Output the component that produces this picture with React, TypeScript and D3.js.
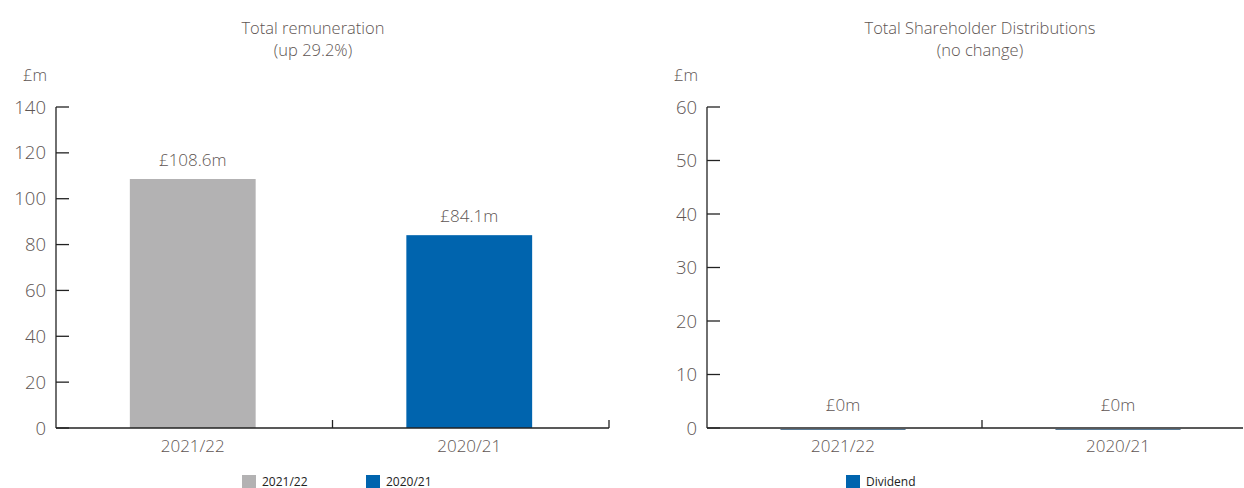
import React from "react";
import * as d3 from "d3";

const categories = ["2021/22", "2020/21"];
const remunerationValues = [108.6, 84.1];
const remunerationLabels = ["£108.6m", "£84.1m"];
const remunerationTicks = [0, 20, 40, 60, 80, 100, 120, 140];
const distributionValues = [0, 0];
const distributionLabels = ["£0m", "£0m"];
const distributionTicks = [0, 10, 20, 30, 40, 50, 60];
const remunerationColors = ["#b3b2b3", "#0064ae"];
const legendLeft = ["2021/22", "2020/21"];
const legendRight = ["Dividend"];

const TEXT = "#5e5553";
const FONT = "'Open Sans', 'Noto Sans', sans-serif";
const LEGEND_FONT = "'Open Sans', 'Noto Sans', sans-serif";

type PanelProps = {
  x0: number;
  x1: number;
  axisEnd: number;
  titleLines: string[];
  titleX: number;
  values: number[];
  labels: string[];
  ticks: number[];
  max: number;
  colors: string[];
};

function Panel(p: PanelProps) {
  const y = d3.scaleLinear().domain([0, p.max]).range([428, 107]);
  const x = d3.scaleBand().domain(categories).range([p.x0, p.x1]).paddingInner(0).paddingOuter(0);
  const bw = x.bandwidth() * 0.455;
  return (
    <g>
      {p.titleLines.map((t, i) => (
        <text key={t} x={p.titleX} y={34 + i * 22} textAnchor="middle" fontFamily={FONT} fontWeight={300} fontSize={16.5} fill={TEXT}>
          {t}
        </text>
      ))}
      <text x={p.x0 - 9} y={81} textAnchor="end" fontFamily={FONT} fontWeight={300} fontSize={16.5} fill={TEXT}>
        £m
      </text>
      {p.ticks.map((t) => (
        <g key={t}>
          <line x1={p.x0} x2={p.x0 + 13} y1={y(t)} y2={y(t)} stroke="#222" strokeWidth={1.3} />
          <text x={p.x0 - 10} y={y(t) + 6.5} textAnchor="end" fontFamily={FONT} fontWeight={300} fontSize={18.5} fill={TEXT}>
            {t}
          </text>
        </g>
      ))}
      {categories.map((c, i) => {
        const cx = (x(c) as number) + x.bandwidth() / 2 - 1.5;
        const h = y(0) - y(p.values[i]);
        return (
          <g key={c}>
            {h > 0 ? (
              <rect x={cx - bw / 2} y={y(p.values[i])} width={bw} height={h} fill={p.colors[i]} />
            ) : (
              <line x1={cx - bw / 2} x2={cx + bw / 2} y1={y(0) + 1.5} y2={y(0) + 1.5} stroke="#5a7a95" strokeWidth={1} />
            )}
            <text x={cx} y={y(p.values[i]) - (h > 0 ? 13 : 17)} textAnchor="middle" fontFamily={FONT} fontWeight={300} fontSize={17} fill={TEXT}>
              {p.labels[i]}
            </text>
            <text x={cx} y={452} textAnchor="middle" fontFamily={FONT} fontWeight={300} fontSize={17} fill={TEXT}>
              {c}
            </text>
          </g>
        );
      })}
      <line x1={p.x0} x2={p.x0} y1={y(p.max)} y2={y(0)} stroke="#222" strokeWidth={1.3} />
      <line x1={p.x0} x2={p.axisEnd} y1={y(0)} y2={y(0)} stroke="#222" strokeWidth={1.3} />
      {categories.slice(1).map((c) => (
        <line key={c} x1={x(c) as number} x2={x(c) as number} y1={y(0)} y2={y(0) - 8} stroke="#222" strokeWidth={1.3} />
      ))}
      {p.axisEnd >= p.x1 - 1 ? (
        <line x1={p.x1} x2={p.x1} y1={y(0)} y2={y(0) - 8} stroke="#222" strokeWidth={1.3} />
      ) : null}
    </g>
  );
}

export default function App() {
  return (
    <svg
      width={1244}
      height={488}
      style={{ position: "absolute", left: 0, top: 0, background: "#fff" }}
    >
      <Panel
        x0={56}
        x1={609}
        axisEnd={609}
        titleLines={["Total remuneration", "(up 29.2%)"]}
        titleX={313}
        values={remunerationValues}
        labels={remunerationLabels}
        ticks={remunerationTicks}
        max={140}
        colors={remunerationColors}
      />
      <Panel
        x0={707}
        x1={1257}
        axisEnd={1243}
        titleLines={["Total Shareholder Distributions", "(no change)"]}
        titleX={980}
        values={distributionValues}
        labels={distributionLabels}
        ticks={distributionTicks}
        max={60}
        colors={["#0064ae", "#0064ae"]}
      />
      {legendLeft.map((l, i) => (
        <g key={l}>
          <rect x={242 + i * 124} y={475} width={14} height={14} fill={remunerationColors[i]} />
          <text x={262 + i * 124} y={486} fontFamily={LEGEND_FONT} fontSize={12} fill="#222">
            {l}
          </text>
        </g>
      ))}
      {legendRight.map((l) => (
        <g key={l}>
          <rect x={846} y={475} width={14} height={14} fill="#0064ae" />
          <text x={866} y={486} fontFamily={LEGEND_FONT} fontSize={12} fill="#222">
            {l}
          </text>
        </g>
      ))}
    </svg>
  );
}
